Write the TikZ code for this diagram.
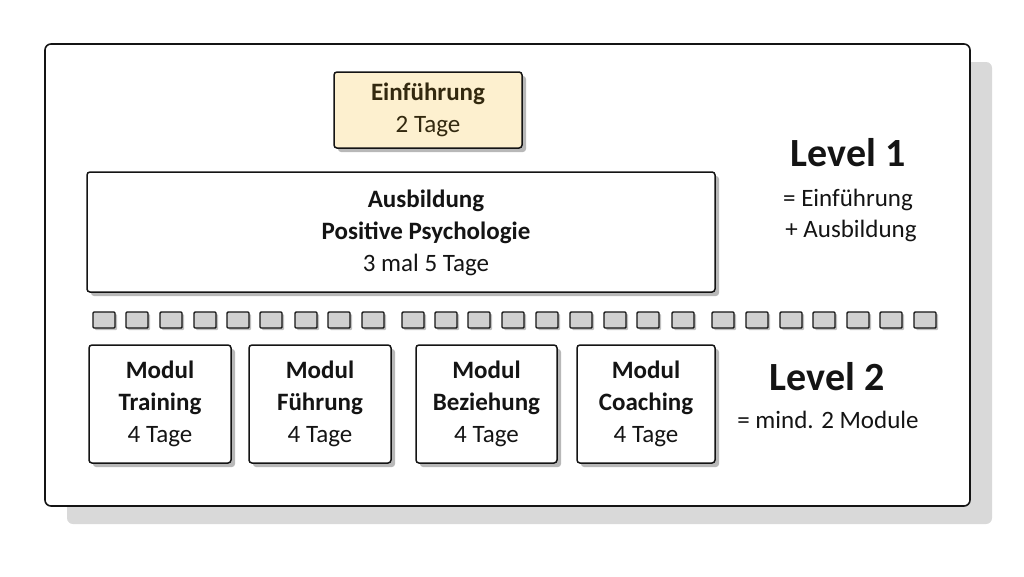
\documentclass[tikz,border=0pt]{standalone}
\usepackage{fontspec}
\setmainfont{Carlito}
\usetikzlibrary{shadows}
\definecolor{ink}{HTML}{141414}
\definecolor{beige}{HTML}{FDF0CF}
\definecolor{brownink}{HTML}{33290F}
\definecolor{shade}{HTML}{D9D9D9}
\definecolor{sqfill}{HTML}{D0D0D0}
\begin{document}
\begin{tikzpicture}[x=1pt,y=-1pt,
  body/.style={font=\fontsize{25}{32}\selectfont, text=ink},
  boxshadow/.style={drop shadow={shadow xshift=4pt, shadow yshift=-4pt, fill=black, opacity=.28}},
  box/.style={draw=ink, line width=1.5pt, rounded corners=3pt, fill=white, inner sep=0pt,
    align=center, body, boxshadow},
  frame/.style={draw=ink, line width=1.6pt, rounded corners=6pt, fill=white, inner sep=0pt,
    drop shadow={shadow xshift=22pt, shadow yshift=-18pt, fill=shade, opacity=1}},
  sqbox/.style={draw=ink, line width=1.4pt, rounded corners=1pt, fill=sqfill, inner sep=0pt,
    minimum width=22pt, minimum height=16pt,
    drop shadow={shadow xshift=2pt, shadow yshift=-2pt, fill=black, opacity=.25}},
  levelbig/.style={font=\fontsize{40}{42}\selectfont\bfseries, text=ink, anchor=base},
  levelsub/.style={body, anchor=base}
]
\useasboundingbox (0,0) rectangle (1024,576);

% outer frame
\node[frame, minimum width=925pt, minimum height=462pt] (frame) at (507.5,275) {};

% Einfuehrung
\node[box, fill=beige, text=brownink, minimum width=188pt, minimum height=76pt] (einf) at (428,110)
  {\textbf{Einführung}\\2 Tage};

% Ausbildung
\node[box, minimum width=628pt, minimum height=120pt] (ausb) at (401,232) {};
\node[body, align=center] (ausbtext) at (426,233)
  {\textbf{Ausbildung}\\\textbf{Positive Psychologie}\\3 mal 5 Tage};

% row of small squares
\foreach \x [count=\i] in {93,126,160,194,227,260,295,328,362,
                           402,435,468,502,536,570,604,637,672,
                           712,746,780,813,847,880,914}
  \node[sqbox] (sq\i) at (\x+11,320) {};

% modules
\node[box, minimum width=142pt, minimum height=118pt] (mtrain) at (160,404)
  {\textbf{Modul}\\\textbf{Training}\\4 Tage};
\node[box, minimum width=142pt, minimum height=118pt] (mfuehr) at (320,404)
  {\textbf{Modul}\\\textbf{Führung}\\4 Tage};
\node[box, minimum width=141pt, minimum height=118pt] (mbez) at (486.5,404)
  {\textbf{Modul}\\\textbf{Beziehung}\\4 Tage};
\node[box, minimum width=138pt, minimum height=118pt] (mcoach) at (646,404)
  {\textbf{Modul}\\\textbf{Coaching}\\4 Tage};

% level texts
\node[levelbig] (lvl1) at (848,166) {Level 1};
\node[levelsub] (lvl1a) at (848,206) {= Einführung};
\node[levelsub] (lvl1b) at (851,237) {+ Ausbildung};
\node[levelbig] (lvl2) at (827,390) {Level 2};
\node[levelsub] (lvl2a) at (828,428) {= mind. 2 Module};
\end{tikzpicture}
\end{document}
